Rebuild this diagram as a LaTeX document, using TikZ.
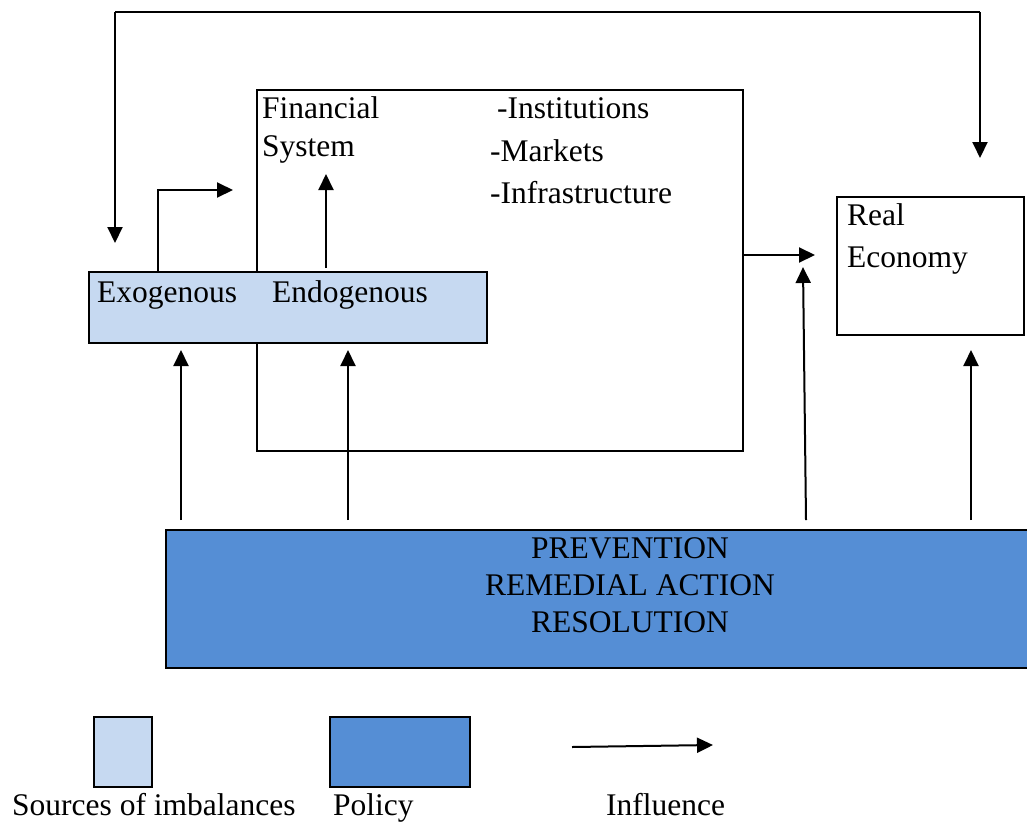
\documentclass[tikz,border=0pt]{standalone}
\usepackage{fontspec}
\setmainfont{Liberation Serif}
\usetikzlibrary{arrows.meta}
\definecolor{srcblue}{HTML}{C6D9F1}
\definecolor{polblue}{HTML}{558ED5}

\begin{document}
\begin{tikzpicture}[x=1pt, y=-1pt, font=\fontsize{31.5}{37}\selectfont]
    \tikzstyle{box}=[draw=black, line width=2pt, inner sep=0pt, anchor=north west]
    \tikzstyle{lbl}=[inner sep=0pt, anchor=base west]
    \tikzstyle{infl}=[line width=2pt, -{Triangle[length=16pt, width=15pt]}]

    % page frame
    \clip (0,0) rectangle (1027,822);

    % boxes
    \node[box, minimum width=486pt, minimum height=361pt] (fin) at (256,89) {};
    \node[box, fill=srcblue, minimum width=398pt, minimum height=71pt] (src) at (88,271) {};
    \node[box, minimum width=187pt, minimum height=138pt] (real) at (836,196) {};
    \node[box, fill=polblue, minimum width=870pt, minimum height=138pt] (pol) at (165,529) {};

    % texts
    \node[lbl] (fin1) at (262,118) {Financial};
    \node[lbl] (fin2) at (262,156) {System};
    \node[lbl] (inst) at (497,118) {-Institutions};
    \node[lbl] (mark) at (490,161) {-Markets};
    \node[lbl] (infra) at (490,203) {-Infrastructure};
    \node[lbl] (exo) at (97,302) {Exogenous};
    \node[lbl] (endo) at (272,302) {Endogenous};
    \node[lbl] (real1) at (847,225) {Real};
    \node[lbl] (real2) at (847,267) {Economy};
    \node[align=center, inner sep=0pt, anchor=north] (poltxt) at (630,537)
        {PREVENTION\\REMEDIAL ACTION\\RESOLUTION};

    % connector end points
    \coordinate (loopS) at (980,158);
    \coordinate (loopE) at (115,243);
    \coordinate (exoT) at (233,190);
    \coordinate (endoT) at (326,174);
    \coordinate (finR) at (815,255);
    \foreach \n/\x/\y in {a/181/350, b/348/350, c/803/267, d/971/350} {
        \coordinate (up\n) at (\x,\y);
    }

    % influences
    \draw[infl] (loopS |- 0,12) -- (loopS);
    \draw[line width=2pt] (loopE |- 0,12) -- (loopS |- 0,12);
    \draw[infl] (loopE |- 0,12) -- (loopE);
    \draw[infl] (src.north west) ++(70,0) |- (exoT);
    \draw[infl] (endoT |- src.north) ++(0,-3) -- (endoT);
    \draw[infl] (fin.east |- finR) -- (finR);
    \draw[infl] (upa |- pol.north) ++(0,-9) -- (upa);
    \draw[infl] (upb |- pol.north) ++(0,-9) -- (upb);
    \draw[infl] (806,520) -- (upc);
    \draw[infl] (upd |- pol.north) ++(0,-9) -- (upd);

    % legend
    \node[box, fill=srcblue, minimum width=58pt, minimum height=70pt] (keysrc) at (93,716) {};
    \node[box, fill=polblue, minimum width=140pt, minimum height=70pt] (keypol) at (329,716) {};
    \coordinate (keyA) at (572,747);
    \coordinate (keyB) at (713,745);
    \draw[infl] (keyA) -- (keyB);
    \node[lbl] (lsrc) at (12,815) {Sources of imbalances};
    \node[lbl] (lpol) at (333,815) {Policy};
    \node[lbl] (linf) at (606,815) {Influence};
\end{tikzpicture}
\end{document}
